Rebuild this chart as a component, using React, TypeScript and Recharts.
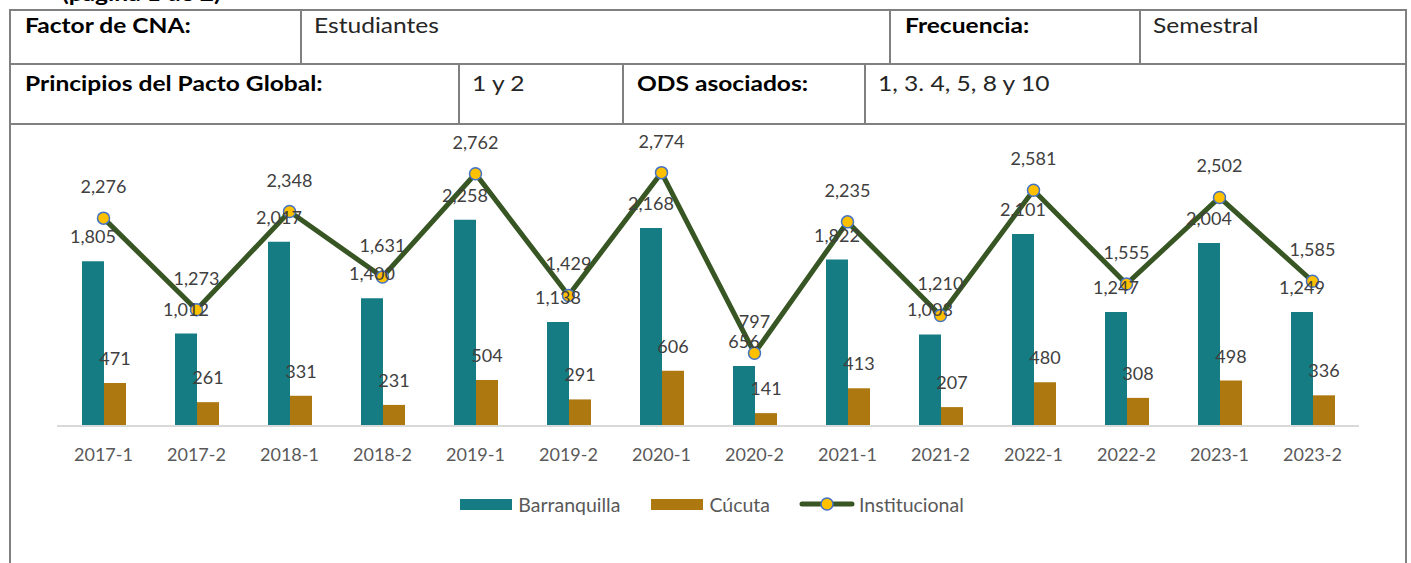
import React from "react"
import { ComposedChart, Bar, Line, XAxis, YAxis, LabelList, Legend } from "recharts"

const CATEGORIES = [
  "2017-1", "2017-2", "2018-1", "2018-2", "2019-1", "2019-2", "2020-1",
  "2020-2", "2021-1", "2021-2", "2022-1", "2022-2", "2023-1", "2023-2",
]
const BARRANQUILLA = [1805, 1012, 2017, 1400, 2258, 1138, 2168, 656, 1822, 1003, 2101, 1247, 2004, 1249]
const CUCUTA = [471, 261, 331, 231, 504, 291, 606, 141, 413, 207, 480, 308, 498, 336]
const INSTITUCIONAL = [2276, 1273, 2348, 1631, 2762, 1429, 2774, 797, 2235, 1210, 2581, 1555, 2502, 1585]

const data = CATEGORIES.map((c, i) => ({
  name: c,
  Barranquilla: BARRANQUILLA[i],
  Cúcuta: CUCUTA[i],
  Institucional: INSTITUCIONAL[i],
}))

const TEAL = "#167C84"
const GOLD = "#AD7810"
const GREEN = "#375623"
const FONT = "Lato, 'Noto Sans', sans-serif"
const BORDER = "#808080"

const fmt = (v: any) => Number(v).toLocaleString("en-US")

function Cell({ x, y, text, bold }: { x: number; y: number; text: string; bold?: boolean }) {
  return (
    <div
      style={{
        position: "absolute",
        left: x,
        top: y,
        fontFamily: FONT,
        fontSize: 21,
        fontWeight: bold ? 700 : 400,
        color: bold ? "#000" : "#262626",
        whiteSpace: "nowrap",
        lineHeight: "24px",
        transform: "scaleX(1.17)",
        transformOrigin: "left center",
      }}
    >
      {text}
    </div>
  )
}

function LegendContent() {
  const txt: React.CSSProperties = { fontSize: 19.5, color: "#595959", fontFamily: FONT }
  return (
    <div style={{ display: "flex", justifyContent: "center", alignItems: "center", height: 24 }}>
      <div style={{ width: 52, height: 11, background: TEAL, marginRight: 6 }} />
      <span style={{ ...txt, marginRight: 31 }}>Barranquilla</span>
      <div style={{ width: 52, height: 11, background: GOLD, marginRight: 6 }} />
      <span style={{ ...txt, marginRight: 29 }}>Cúcuta</span>
      <svg width={56} height={16} style={{ marginRight: 4 }}>
        <line x1={3} y1={8} x2={53} y2={8} stroke={GREEN} strokeWidth={5} strokeLinecap="round" />
        <circle cx={28} cy={8} r={6} fill="#FFC000" stroke="#4472C4" strokeWidth={1.5} />
      </svg>
      <span style={txt}>Institucional</span>
    </div>
  )
}

export default function App() {
  const line = (l: number, t: number, w: number, h: number) => (
    <div style={{ position: "absolute", left: l, top: t, width: w, height: h, background: BORDER }} />
  )
  return (
    <div style={{ position: "absolute", left: 0, top: 0, width: 1411, height: 563, background: "#fff", overflow: "hidden" }}>
      <div
        style={{
          position: "absolute",
          left: 62,
          top: -19,
          fontFamily: FONT,
          fontSize: 21,
          fontWeight: 700,
          lineHeight: "24px",
          whiteSpace: "nowrap",
          transform: "scaleX(1.17)",
          transformOrigin: "left center",
        }}
      >
        (página 1 de 2)
      </div>
      {/* table borders */}
      {line(9, 9, 1398, 2)}
      {line(9, 63, 1398, 2)}
      {line(9, 123, 1398, 2)}
      {line(9, 9, 2, 554)}
      {line(1405, 9, 2, 554)}
      {line(300, 9, 2, 55)}
      {line(889, 9, 2, 55)}
      {line(1139, 9, 2, 55)}
      {line(458, 63, 2, 61)}
      {line(622, 63, 2, 61)}
      {line(864, 63, 2, 61)}

      <Cell x={25} y={13} text="Factor de CNA:" bold />
      <Cell x={314} y={13} text="Estudiantes" />
      <Cell x={905} y={13} text="Frecuencia:" bold />
      <Cell x={1153} y={13} text="Semestral" />
      <Cell x={25} y={71} text="Principios del Pacto Global:" bold />
      <Cell x={472} y={71} text="1 y 2" />
      <Cell x={637} y={71} text="ODS asociados:" bold />
      <Cell x={878} y={71} text="1, 3. 4, 5, 8 y 10" />

      <div style={{ position: "absolute", left: 0, top: 0 }}>
        <ComposedChart
          width={1411}
          height={563}
          data={data}
          margin={{ top: 152, right: 52, bottom: 107, left: 57 }}
          barGap={0}
          barSize={22}
        >
          <XAxis
            dataKey="name"
            height={30}
            tickSize={0}
            tickMargin={22}
            axisLine={{ stroke: "#D9D9D9", strokeWidth: 2 }}
            tick={{ fill: "#595959", fontSize: 18, fontFamily: FONT }}
            interval={0}
          />
          <YAxis hide domain={[0, 3000]} />
          <Bar dataKey="Barranquilla" fill={TEAL} isAnimationActive={false}>
            <LabelList dataKey="Barranquilla" position="top" offset={18} formatter={fmt} fill="#404040" fontSize={18} fontFamily={FONT} />
          </Bar>
          <Bar dataKey="Cúcuta" fill={GOLD} isAnimationActive={false}>
            <LabelList dataKey="Cúcuta" position="top" offset={18} formatter={fmt} fill="#404040" fontSize={18} fontFamily={FONT} />
          </Bar>
          <Line
            dataKey="Institucional"
            stroke={GREEN}
            strokeWidth={5}
            dot={{ r: 6, fill: "#FFC000", stroke: "#4472C4", strokeWidth: 1.5 }}
            activeDot={false}
            isAnimationActive={false}
          >
            <LabelList dataKey="Institucional" position="top" offset={25} formatter={fmt} fill="#404040" fontSize={18} fontFamily={FONT} />
          </Line>
          <Legend
            layout="horizontal"
            verticalAlign="middle"
            content={() => <LegendContent />}
            wrapperStyle={{ top: 492, left: 0, width: 1424 }}
          />
        </ComposedChart>
      </div>
    </div>
  )
}
